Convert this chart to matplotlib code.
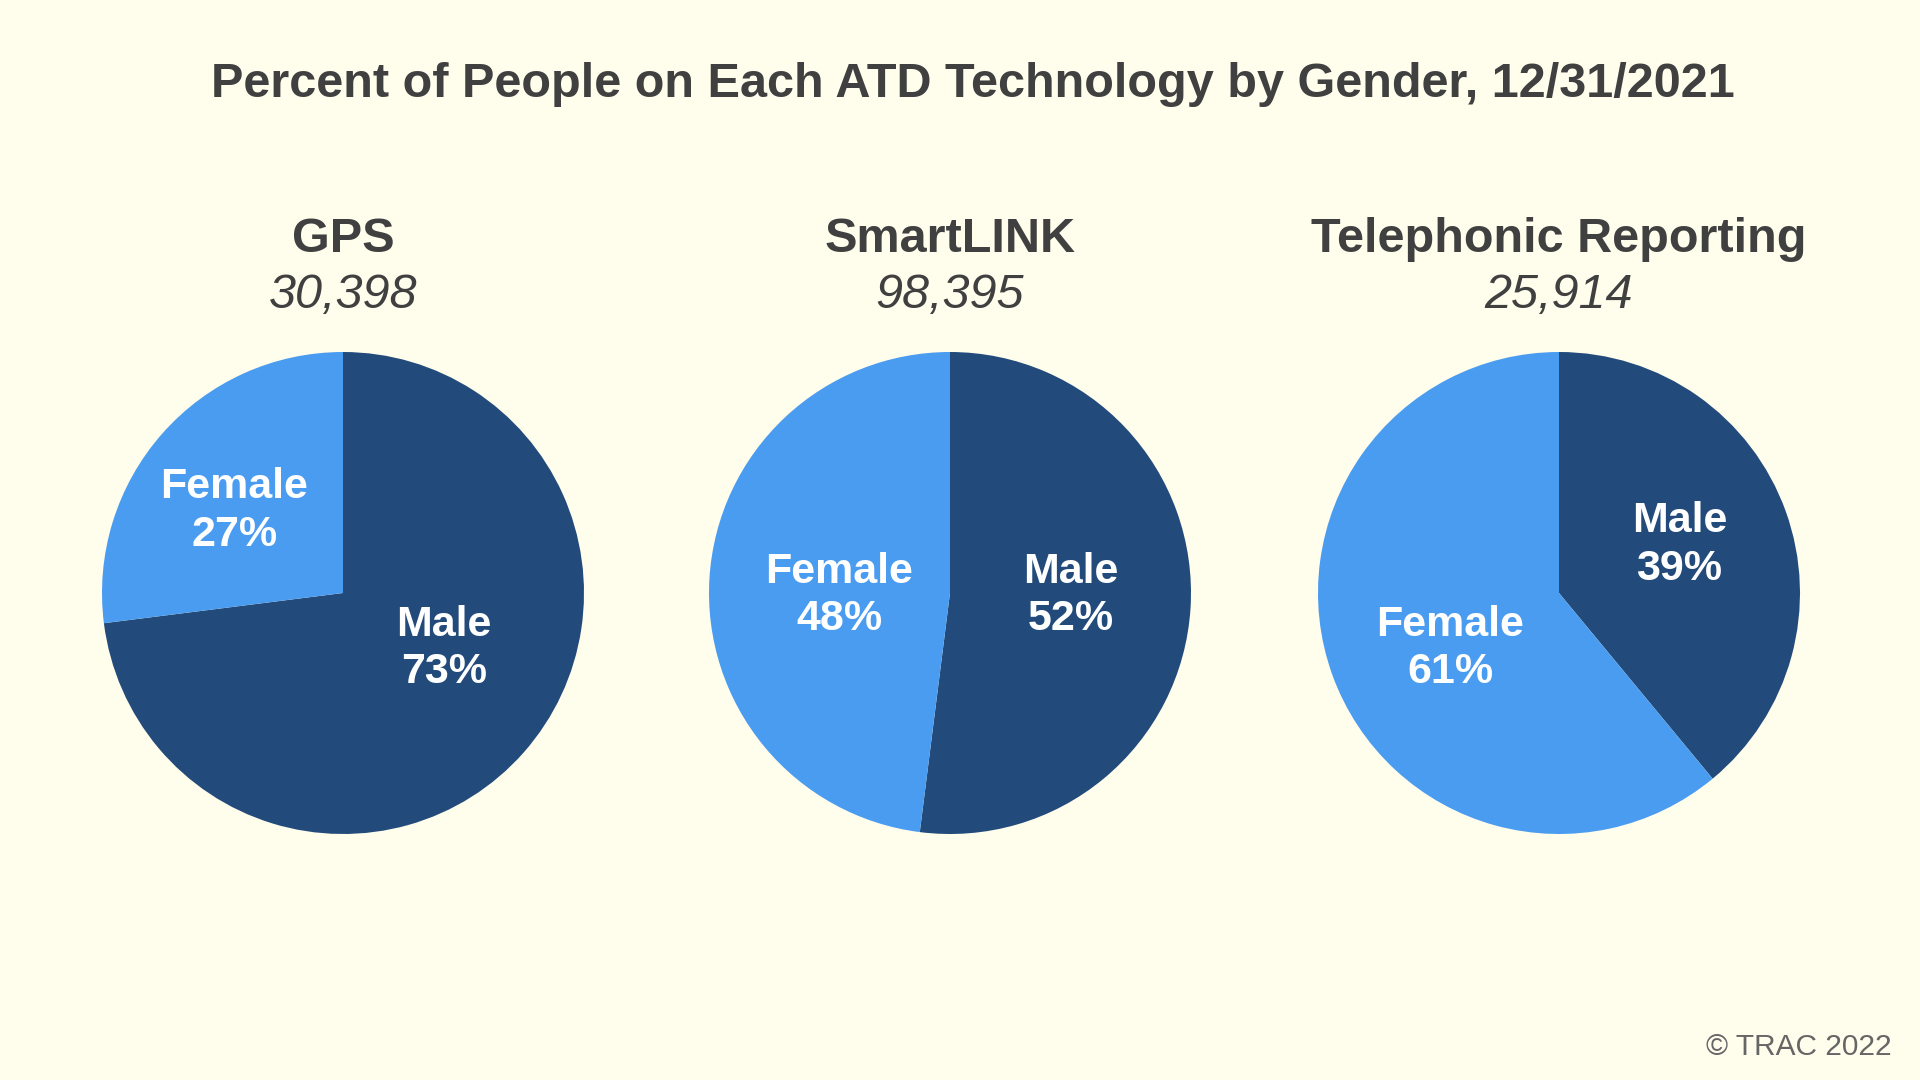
import matplotlib.pyplot as plt

plt.rcParams['font.family'] = ['Liberation Sans', 'DejaVu Sans']

# Data
technologies = ['GPS', 'SmartLINK', 'Telephonic Reporting']
totals = ['30,398', '98,395', '25,914']
male_pct = [73, 52, 39]
female_pct = [27, 48, 61]

# label spots inside each pie (in radius units), male then female
male_spots = [(0.42, -0.23), (0.50, -0.01), (0.50, 0.20)]
female_spots = [(-0.45, 0.34), (-0.46, -0.01), (-0.45, -0.23)]

bg = '#fffdec'
dark = '#224b7b'
light = '#4a9cf1'
textc = '#404040'

fig = plt.figure(figsize=(19.2, 10.8), dpi=100, facecolor=bg)

fig.text(0.5065, 0.922, 'Percent of People on Each ATD Technology by Gender, 12/31/2021',
         ha='center', va='center', fontsize=35, fontweight='bold', color=textc)

centers_x = [343, 950, 1559]
r_px = 241
for i, name in enumerate(technologies):
    cx = centers_x[i] / 1920
    cy = 1 - 593 / 1080
    w = 2 * r_px / 1920
    h = 2 * r_px / 1080
    ax = fig.add_axes([cx - w / 2, cy - h / 2, w, h])
    ax.set_facecolor(bg)
    ax.pie([male_pct[i], female_pct[i]], colors=[dark, light], startangle=90,
           counterclock=False, radius=1.0, wedgeprops=dict(linewidth=0))
    ax.set_xlim(-1, 1)
    ax.set_ylim(-1, 1)
    ax.set_aspect('equal')
    mx, my = male_spots[i]
    fx, fy = female_spots[i]
    ax.text(mx, my, 'Male\n%d%%' % male_pct[i], ha='center', va='center',
            fontsize=31, fontweight='bold', color='white', linespacing=1.25)
    ax.text(fx, fy, 'Female\n%d%%' % female_pct[i], ha='center', va='center',
            fontsize=31, fontweight='bold', color='white', linespacing=1.25)

    fig.text(cx, 1 - 239 / 1080, name, ha='center', va='center',
             fontsize=35, fontweight='bold', color=textc)
    fig.text(cx, 1 - 295 / 1080, totals[i], ha='center', va='center',
             fontsize=35, style='italic', color=textc)

fig.text(1892 / 1920, 1 - 1047 / 1080, '© TRAC 2022', ha='right', va='center',
         fontsize=21.5, color='#666666')

fig.savefig('out.png', dpi=100, facecolor=bg)
